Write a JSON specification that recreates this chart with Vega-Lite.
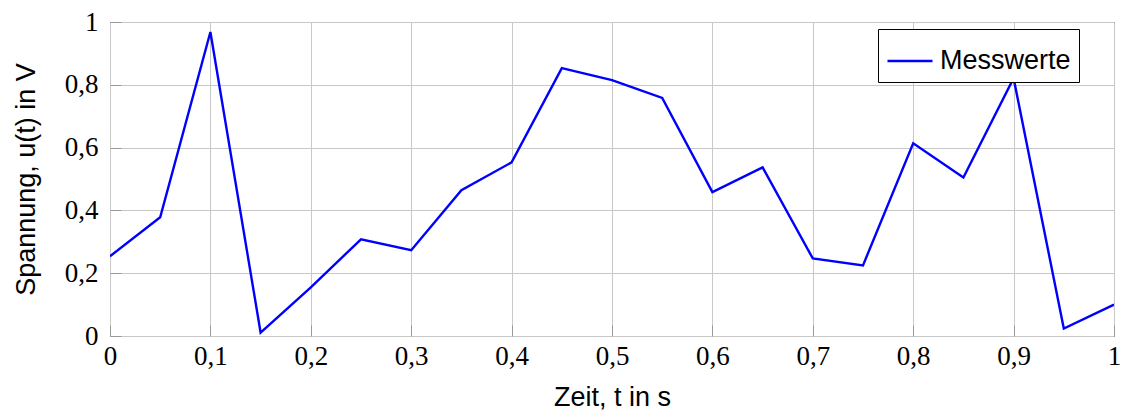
{
  "$schema": "https://vega.github.io/schema/vega-lite/v6.json",
  "width": 1004,
  "height": 314,
  "autosize": {"type": "none"},
  "padding": {"left": 110, "top": 22, "right": 8, "bottom": 76},
  "background": "white",
  "config": {
    "view": {"stroke": "#000000", "strokeWidth": 1},
    "axis": {
      "domain": false,
      "grid": true,
      "gridColor": "#c8c8c8",
      "gridWidth": 1,
      "ticks": true,
      "tickSize": -11,
      "tickColor": "#999999",
      "labelFont": "Liberation Serif",
      "labelFontSize": 27,
      "labelColor": "#000000",
      "titleFont": "Liberation Sans",
      "titleFontSize": 27,
      "titleFontWeight": "normal",
      "titleColor": "#000000",
      "labelFlush": false
    }
  },
  "data": {
    "values": [
      {"t": 0.00, "u": 0.254, "s": "Messwerte"},
      {"t": 0.05, "u": 0.378, "s": "Messwerte"},
      {"t": 0.10, "u": 0.968, "s": "Messwerte"},
      {"t": 0.15, "u": 0.011, "s": "Messwerte"},
      {"t": 0.20, "u": 0.155, "s": "Messwerte"},
      {"t": 0.25, "u": 0.308, "s": "Messwerte"},
      {"t": 0.30, "u": 0.273, "s": "Messwerte"},
      {"t": 0.35, "u": 0.464, "s": "Messwerte"},
      {"t": 0.40, "u": 0.553, "s": "Messwerte"},
      {"t": 0.45, "u": 0.853, "s": "Messwerte"},
      {"t": 0.50, "u": 0.815, "s": "Messwerte"},
      {"t": 0.55, "u": 0.758, "s": "Messwerte"},
      {"t": 0.60, "u": 0.458, "s": "Messwerte"},
      {"t": 0.65, "u": 0.537, "s": "Messwerte"},
      {"t": 0.70, "u": 0.247, "s": "Messwerte"},
      {"t": 0.75, "u": 0.225, "s": "Messwerte"},
      {"t": 0.80, "u": 0.614, "s": "Messwerte"},
      {"t": 0.85, "u": 0.505, "s": "Messwerte"},
      {"t": 0.90, "u": 0.821, "s": "Messwerte"},
      {"t": 0.95, "u": 0.024, "s": "Messwerte"},
      {"t": 1.00, "u": 0.100, "s": "Messwerte"}
    ]
  },
  "mark": {"type": "line", "strokeWidth": 2.4, "clip": true},
  "encoding": {
    "x": {
      "field": "t",
      "type": "quantitative",
      "scale": {"domain": [0, 1], "nice": false, "zero": false},
      "axis": {
        "title": "Zeit, t in s",
        "values": [0, 0.1, 0.2, 0.3, 0.4, 0.5, 0.6, 0.7, 0.8, 0.9, 1],
        "labelExpr": "replace(format(datum.value, '.1~f'), '.', ',')",
        "labelPadding": 18,
        "titlePadding": 15
      }
    },
    "y": {
      "field": "u",
      "type": "quantitative",
      "scale": {"domain": [0, 1], "nice": false},
      "axis": {
        "title": "Spannung, u(t) in V",
        "values": [0, 0.2, 0.4, 0.6, 0.8, 1],
        "labelExpr": "replace(format(datum.value, '.1~f'), '.', ',')",
        "labelPadding": 23,
        "titlePadding": 24
      }
    },
    "color": {
      "field": "s",
      "type": "nominal",
      "scale": {"range": ["#0000ff"]},
      "legend": {
        "title": null,
        "orient": "none",
        "legendX": 768,
        "legendY": 7,
        "strokeColor": "#000000",
        "fillColor": "#ffffff",
        "padding": 8,
        "symbolType": "stroke",
        "symbolSize": 2025,
        "symbolStrokeWidth": 2.4,
        "labelFont": "Liberation Sans",
        "labelFontSize": 27,
        "labelColor": "#000000",
        "labelOffset": 6
      }
    }
  }
}
